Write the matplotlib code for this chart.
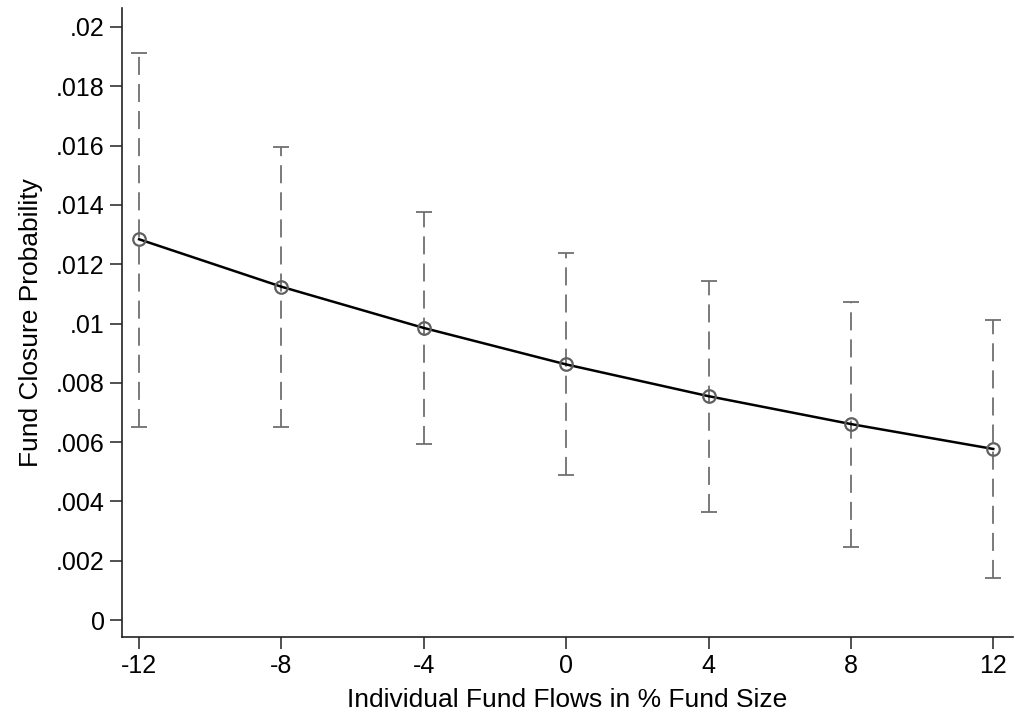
import matplotlib
matplotlib.use("Agg")
import matplotlib.pyplot as plt
from matplotlib.ticker import FuncFormatter

flows = [-12, -8, -4, 0, 4, 8, 12]
prob = [0.01284, 0.01124, 0.00985, 0.00862, 0.00755, 0.00661, 0.00577]
ci_upper = [0.01913, 0.01595, 0.01375, 0.01237, 0.01144, 0.01074, 0.01012]
ci_lower = [0.00652, 0.00652, 0.00593, 0.00488, 0.00364, 0.00247, 0.00141]
xticks = [-12, -8, -4, 0, 4, 8, 12]
yticks = [0, .002, .004, .006, .008, .01, .012, .014, .016, .018, .02]

plt.rcParams['font.family'] = ['Liberation Sans', 'DejaVu Sans']

fig = plt.figure(figsize=(10.15, 7.21), dpi=100)
ax = fig.add_axes([0.1202, 0.1165, 0.878, 0.8725])

err_lo = [p - l for p, l in zip(prob, ci_lower)]
err_hi = [u - p for p, u in zip(prob, ci_upper)]
eb = ax.errorbar(flows, prob, yerr=[err_lo, err_hi], fmt='none', ecolor='#707070',
                 elinewidth=1.3, capsize=5.5, capthick=1.3, zorder=2)
for lc in eb[2]:
    lc.set_linestyle((0, (10, 5)))

ax.plot(flows, prob, color='black', lw=1.8, zorder=3)
ax.plot(flows, prob, linestyle='none', marker='o', markersize=9, markerfacecolor='none',
        markeredgecolor='#606060', markeredgewidth=1.6, zorder=4)

ax.set_xlim(-12.48, 12.56)
ax.set_ylim(-0.00057, 0.02064)
ax.set_xticks(xticks)
ax.set_yticks(yticks)

def yfmt(v, pos):
    if abs(v) < 1e-12:
        return '0'
    s = ('%.3f' % v).rstrip('0')
    return s.lstrip('0')

ax.yaxis.set_major_formatter(FuncFormatter(yfmt))
ax.set_xticklabels([str(t) for t in xticks])

for s in ['top', 'right']:
    ax.spines[s].set_visible(False)
for s in ['left', 'bottom']:
    ax.spines[s].set_linewidth(1.2)
    ax.spines[s].set_color('#222222')

ax.tick_params(axis='both', length=8.5, width=1.1, color='#222222', labelsize=18, pad=4)
ax.set_ylabel('Fund Closure Probability', fontsize=19, labelpad=9)
ax.set_xlabel('Individual Fund Flows in % Fund Size', fontsize=19, labelpad=7)

fig.savefig('out.png', dpi=100)
